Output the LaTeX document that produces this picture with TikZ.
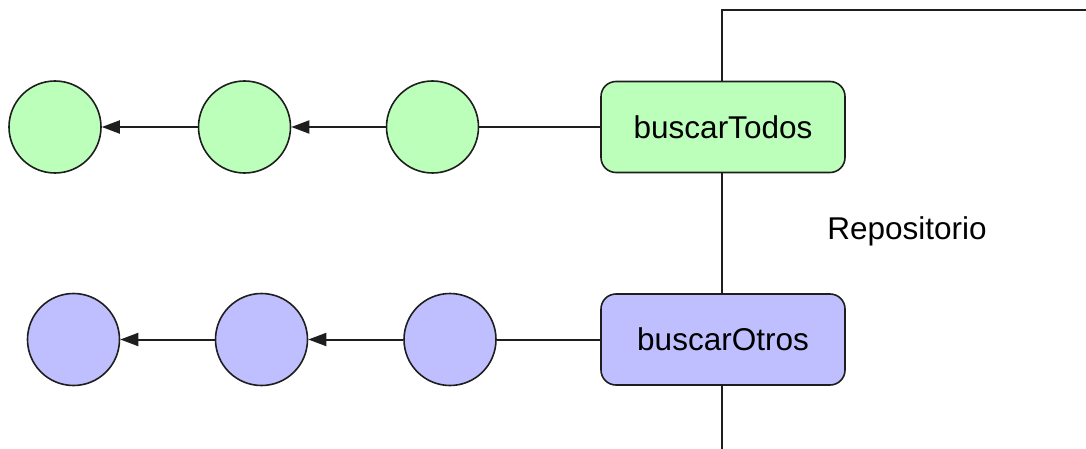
\documentclass[tikz,border=0pt]{standalone}
\usepackage{fontspec}
\setmainfont{Liberation Sans}
\usetikzlibrary{arrows.meta}
\definecolor{gfill}{RGB}{187,255,187}
\definecolor{bfill}{RGB}{191,191,255}
\definecolor{lin}{RGB}{30,30,30}
\begin{document}
\begin{tikzpicture}[x=1pt,y=-1pt,
  circ/.style={circle,draw=lin,line width=1.6pt,minimum size=92pt,inner sep=0pt},
  fn/.style={rectangle,rounded corners=15pt,draw=lin,line width=1.6pt,minimum width=244pt,minimum height=91pt,inner sep=0pt,font=\fontsize{31.5}{36}\selectfont},
  conn/.style={draw=lin,line width=2pt},
  arr/.style={conn,-{Triangle[length=18pt,width=13pt]}},
  lbl/.style={font=\fontsize{31.5}{36}\selectfont,inner sep=0pt}]
\useasboundingbox (0,0) rectangle (1086,449);
% green row
\node[circ,fill=gfill] (g1) at (55,127) {};
\node[circ,fill=gfill] (g2) at (244.5,127) {};
\node[circ,fill=gfill] (g3) at (432.5,127) {};
\node[fn,fill=gfill] (bt) at (723,127) {buscarTodos};
% blue row
\node[circ,fill=bfill] (b1) at (73.5,339.5) {};
\node[circ,fill=bfill] (b2) at (261.5,339.5) {};
\node[circ,fill=bfill] (b3) at (450,339.5) {};
\node[fn,fill=bfill] (bo) at (723,339.5) {buscarOtros};
% label
\node[lbl,anchor=base] (rep) at (907,239) {Repositorio};
% coordinates
\coordinate (tl) at (722,10);
\coordinate (tr) at (1090,10);
\coordinate (bb) at (722,452);
% connectors
\draw[arr] (g2) -- (g1);
\draw[arr] (g3) -- (g2);
\draw[conn] (g3) -- (bt);
\draw[arr] (b2) -- (b1);
\draw[arr] (b3) -- (b2);
\draw[conn] (b3) -- (bo);
\draw[conn] (tr) -- (tl) -- (bt.north -| tl);
\draw[conn] (bt.south -| tl) -- (bo.north -| tl);
\draw[conn] (bo.south -| tl) -- (bb);
\end{tikzpicture}
\end{document}
